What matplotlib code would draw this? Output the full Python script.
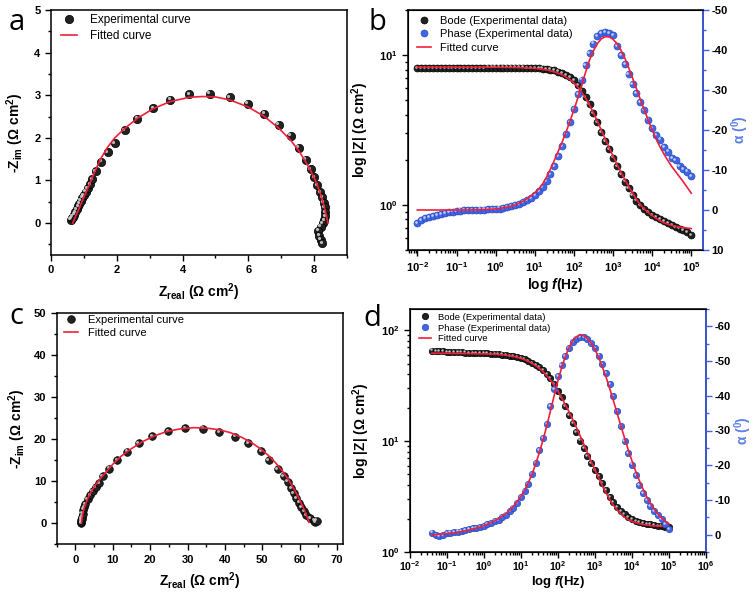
import matplotlib
matplotlib.use('Agg')
import matplotlib.pyplot as plt
import matplotlib.transforms as mtransforms
from matplotlib.ticker import MultipleLocator, LogLocator, NullFormatter

plt.rcParams['font.family'] = ['Liberation Sans', 'DejaVu Sans']
plt.rcParams['font.weight'] = 'bold'
plt.rcParams['axes.labelweight'] = 'bold'
plt.rcParams['axes.unicode_minus'] = False
plt.rcParams['mathtext.fontset'] = 'custom'
plt.rcParams['mathtext.rm'] = 'Liberation Sans:bold'
plt.rcParams['mathtext.bf'] = 'Liberation Sans:bold'
plt.rcParams['mathtext.it'] = 'Liberation Sans:italic:bold'

# ---------------- data ----------------
# panel a: Nyquist
za_re = [0.60, 0.63, 0.66, 0.70, 0.74, 0.78, 0.82, 0.86, 0.90, 0.95,
         1.00, 1.06, 1.12, 1.19, 1.26, 1.36, 1.52, 1.72, 1.94, 2.24,
         2.63, 3.10, 3.62, 4.20, 4.82, 5.43, 5.98, 6.49, 6.92, 7.29,
         7.53, 7.75, 7.90, 8.01, 8.10, 8.18, 8.25, 8.29, 8.32, 8.33,
         8.33, 8.31, 8.26, 8.20, 8.13, 8.16, 8.20, 8.25]
za_im = [0.08, 0.11, 0.15, 0.20, 0.26, 0.32, 0.39, 0.45, 0.52, 0.59,
         0.66, 0.74, 0.82, 0.91, 1.03, 1.21, 1.44, 1.66, 1.88, 2.18,
         2.45, 2.70, 2.89, 3.02, 3.04, 2.96, 2.80, 2.57, 2.31, 2.05,
         1.77, 1.49, 1.27, 1.07, 0.89, 0.73, 0.60, 0.48, 0.37, 0.25,
         0.16, 0.07, 0.0, -0.09, -0.18, -0.30, -0.39, -0.47]
fa_re = [0.66, 0.75, 0.85, 0.95, 1.05, 1.15, 1.36, 1.52, 1.72, 1.94,
         2.24, 2.63, 3.10, 3.62, 4.20, 4.60, 5.00, 5.43, 5.98, 6.49,
         6.92, 7.29, 7.53, 7.75, 7.90, 8.05, 8.18, 8.28, 8.36, 8.42]
fa_im = [0.0, 0.16, 0.34, 0.52, 0.70, 0.87, 1.26, 1.52, 1.78, 2.00,
         2.22, 2.46, 2.68, 2.85, 2.95, 2.97, 2.96, 2.89, 2.73, 2.50,
         2.23, 1.94, 1.70, 1.43, 1.22, 0.98, 0.72, 0.46, 0.22, 0.0]

# panel c: Nyquist
zc_re = [1.5, 1.55, 1.6, 1.7, 1.8, 1.95, 2.15, 2.4, 2.7, 3.3,
         3.95, 4.65, 5.4, 6.3, 7.3, 9.0, 11.1, 13.8, 16.9, 20.5,
         24.8, 29.3, 34.1, 38.5, 42.7, 46.3, 49.6, 51.7, 54.1, 55.7,
         56.8, 57.7, 58.4, 59.1, 59.8, 60.4, 61.1, 61.8, 62.7, 63.8,
         64.2, 64.5]
zc_im = [0.0, 0.3, 0.7, 1.1, 1.6, 2.3, 3.2, 3.9, 4.6, 5.7,
         6.7, 7.7, 8.5, 9.6, 11.2, 13.0, 15.0, 17.0, 19.0, 20.7,
         21.9, 22.6, 22.5, 21.7, 20.6, 19.0, 17.2, 15.0, 12.9, 11.2,
         9.9, 8.3, 7.1, 5.9, 4.9, 3.8, 2.8, 2.0, 1.2, 0.6,
         0.3, 0.6]
fc_re = [1.6, 1.8, 2.1, 2.6, 3.3, 4.2, 5.3, 6.6, 8.2, 10.0, 12.2, 14.8,
         17.8, 21.0, 24.5, 28.0, 31.5, 35.0, 38.5, 41.5, 44.5, 47.0, 49.5,
         51.5, 53.5, 55.3, 56.9, 58.3, 59.5, 60.5, 61.3, 62.0, 62.5]
fc_im = [0.0, 1.4, 2.8, 4.3, 5.9, 7.5, 9.0, 10.5, 12.2, 14.0, 15.9, 17.6,
         19.3, 20.7, 21.8, 22.4, 22.7, 22.6, 22.2, 21.5, 20.4, 19.2, 17.7,
         16.2, 14.4, 12.5, 10.5, 8.4, 6.4, 4.6, 3.0, 1.4, 0.2]

# frequency list (10 points per decade)
decade_mant = [1.0, 1.26, 1.58, 2.0, 2.51, 3.16, 3.98, 5.01, 6.31, 7.94]
freq_b = [m * 10.0 ** e for e in range(-2, 5) for m in decade_mant] + [1e5]
freq_d = freq_b[6:]

# panel b: Bode
zmod_b = [8.15, 8.18, 8.20, 8.20, 8.19, 8.20, 8.21, 8.20, 8.21, 8.22,
          8.22, 8.22, 8.23, 8.23, 8.23, 8.24, 8.24, 8.24, 8.25, 8.25,
          8.25, 8.25, 8.26, 8.26, 8.26, 8.26, 8.25, 8.25, 8.24, 8.22,
          8.20, 8.17, 8.12, 8.06, 8.00, 7.90, 7.75, 7.58, 7.38, 7.12,
          6.78, 6.30, 5.80, 5.25, 4.70, 4.10, 3.55, 3.08, 2.68, 2.35,
          2.07, 1.82, 1.61, 1.43, 1.29, 1.17, 1.07, 1.00, 0.935, 0.89,
          0.86, 0.83, 0.80, 0.775, 0.755, 0.735, 0.715, 0.695, 0.675, 0.655,
          0.63]
phase_b = [3.2, 2.6, 2.1, 1.8, 1.5, 1.2, 1.0, 0.8, 0.6, 0.4,
           0.25, 0.15, 0.05, 0.0, -0.05, -0.05, -0.1, -0.1, -0.15, -0.2,
           -0.25, -0.35, -0.5, -0.7, -0.9, -1.2, -1.5, -1.9, -2.4, -3.0,
           -3.8, -4.7, -5.8, -7.2, -9.0, -11.0, -13.4, -16.0, -18.9, -22.0,
           -25.3, -29.0, -32.6, -36.2, -39.3, -41.6, -43.4, -44.3, -44.4, -44.2,
           -43.8, -41.0, -38.8, -36.4, -34.0, -31.5, -29.3, -27.0, -25.0, -22.6,
           -20.5, -18.7, -17.6, -15.8, -14.6, -13.0, -12.4, -11.0, -10.3, -9.6,
           -8.4]
fit_zmod_b = [8.30] * 20 + [
    8.30, 8.30, 8.29, 8.29, 8.28, 8.27, 8.25, 8.23, 8.20, 8.18,
    8.15, 8.10, 8.04, 7.96, 7.86, 7.73, 7.57, 7.38, 7.14, 6.86,
    6.52, 6.12, 5.66, 5.16, 4.64, 4.12, 3.62, 3.16, 2.76, 2.42,
    2.12, 1.87, 1.66, 1.48, 1.33, 1.20, 1.09, 1.00, 0.94, 0.89,
    0.85, 0.815, 0.785, 0.76, 0.745, 0.73, 0.72, 0.71, 0.705, 0.70,
    0.695]
fit_phase_b = [0.0] * 10 + [
    0.0, 0.0, 0.0, 0.0, -0.05, -0.05, -0.1, -0.1, -0.15, -0.2,
    -0.3, -0.4, -0.55, -0.75, -1.0, -1.3, -1.7, -2.2, -2.8, -3.5,
    -4.3, -5.2, -6.5, -8.2, -10.2, -12.4, -14.7, -17.0, -19.5, -22.2,
    -25.0, -28.0, -31.2, -34.5, -37.5, -39.8, -41.6, -42.8, -43.3, -43.3,
    -42.7, -41.6, -40.0, -38.0, -35.6, -33.0, -30.3, -27.6, -25.0, -22.5,
    -20.0, -17.8, -15.8, -14.0, -12.4, -10.9, -9.6, -8.3, -7.0, -5.6,
    -4.2]

# panel d: Bode
zmod_d = [65.5, 65.0, 64.5, 64.2, 63.9, 63.6, 63.4, 63.2, 63.0, 62.8,
          62.6, 62.4, 62.2, 62.0, 61.8, 61.6, 61.4, 61.1, 60.7, 60.2,
          59.6, 58.9, 58.0, 57.0, 55.8, 54.4, 52.7, 50.8, 48.6, 46.1,
          43.3, 40.3, 36.8, 32.9, 28.5, 24.7, 20.8, 17.2, 14.4, 12.0,
          10.1, 8.6, 7.3, 6.3, 5.5, 4.8, 4.15, 3.6, 3.15, 2.8,
          2.55, 2.35, 2.18, 2.05, 1.97, 1.91, 1.86, 1.82, 1.79, 1.77,
          1.75, 1.73, 1.71, 1.69, 1.67]
phase_d = [-0.6, 0.2, 0.4, 0.1, -0.4, -0.6, -0.8, -0.9, -1.1, -1.4,
           -1.6, -1.8, -2.0, -2.3, -2.6, -3.0, -3.4, -3.8, -4.3, -5.0,
           -5.8, -6.7, -7.8, -9.2, -10.7, -12.5, -14.7, -17.4, -20.6, -24.3,
           -27.9, -31.8, -37.0, -42.0, -45.8, -48.8, -51.4, -53.7, -55.4, -56.5,
           -57.0, -57.0, -56.4, -55.3, -53.7, -51.6, -49.2, -46.6, -43.4, -39.8,
           -35.5, -31.2, -27.0, -23.6, -20.2, -17.3, -14.4, -12.0, -10.0, -8.3,
           -6.8, -5.6, -4.5, -3.1, -1.7]
fit_zmod_d = [62.0, 61.95, 61.9, 61.85, 61.8, 61.75, 61.7, 61.65, 61.6, 61.55,
              61.5, 61.4, 61.3, 61.2, 61.1, 60.95, 60.8, 60.55, 60.25, 59.85,
              59.35, 58.7, 57.9, 56.9, 55.7, 54.2, 52.4, 50.3, 47.9, 45.2,
              42.2, 38.9, 35.4, 31.8, 28.2, 24.7, 21.4, 18.4, 15.7, 13.3,
              11.2, 9.4, 7.85, 6.55, 5.5, 4.65, 3.95, 3.4, 2.97, 2.64,
              2.39, 2.2, 2.06, 1.96, 1.89, 1.84, 1.8, 1.77, 1.75, 1.73,
              1.72, 1.71, 1.705, 1.70, 1.70]
fit_phase_d = [0.1, 0.0, -0.1, -0.2, -0.3, -0.4, -0.5, -0.7, -0.9, -1.1,
               -1.3, -1.6, -1.9, -2.2, -2.6, -3.0, -3.5, -4.0, -4.6, -5.3,
               -6.1, -7.1, -8.2, -9.5, -11.0, -12.8, -14.9, -17.4, -20.3, -23.6,
               -27.3, -31.3, -35.6, -40.0, -44.2, -48.0, -51.2, -53.9, -55.8, -57.0,
               -57.5, -57.3, -56.5, -55.2, -53.4, -51.1, -48.4, -45.4, -42.1, -38.6,
               -35.0, -31.4, -27.9, -24.5, -21.3, -18.3, -15.6, -13.1, -10.9, -9.0,
               -7.4, -6.0, -4.8, -3.9, -3.1]

RED = '#f0203a'
BLUE = '#3f66e8'
SPINE_BLUE = '#3f5ff5'

fig = plt.figure(figsize=(7.56, 5.93), dpi=100)
W, H = 756.0, 593.0


def px_axes(l, t, r, b):
    return fig.add_axes([l / W, 1 - b / H, (r - l) / W, (b - t) / H])


def balls(ax, x, y, base, edge, shine, ms, label=None):
    ax.plot(x, y, 'o', ls='none', ms=ms, mfc=base, mec=edge, mew=0.5,
            label=label)
    tr = mtransforms.offset_copy(ax.transData, fig=fig, x=-ms * 0.17,
                                 y=ms * 0.17, units='points')
    ax.plot(x, y, 'o', ls='none', ms=ms * 0.38, mfc=shine, mec='none',
            transform=tr, alpha=0.85)


def style(ax):
    ax.tick_params(which='both', direction='out', top=False, right=False,
                   labelsize=8, width=1)
    ax.tick_params(which='major', length=4)
    ax.tick_params(which='minor', length=2)
    for s in ax.spines.values():
        s.set_linewidth(1.1)


def bode_style(ax, ax2, xlo, xhi, xpad=3.5, lpad=1, xsize=8, lsize=10):
    ax.set_xscale('log')
    ax.set_yscale('log')
    ax.set_xlim(xlo, xhi)
    ax.xaxis.set_major_locator(LogLocator(base=10, numticks=12))
    ax.xaxis.set_minor_locator(LogLocator(base=10, subs=range(2, 10), numticks=12))
    ax.xaxis.set_minor_formatter(NullFormatter())
    ax.yaxis.set_minor_formatter(NullFormatter())
    style(ax)
    ax.tick_params(axis='x', which='major', pad=xpad, labelsize=xsize)
    ax2.tick_params(which='both', direction='out', labelsize=8, width=1,
                    color=SPINE_BLUE, labelcolor='black', pad=2)
    ax2.tick_params(which='major', length=4)
    ax2.tick_params(which='minor', length=2)
    ax2.spines['right'].set_color(SPINE_BLUE)
    ax2.spines['right'].set_linewidth(1.1)
    ax2.yaxis.set_major_locator(MultipleLocator(10))
    ax2.yaxis.set_minor_locator(MultipleLocator(5))
    ax.set_xlabel(r'log $\mathit{f}$(Hz)', fontsize=lsize, labelpad=lpad)
    ax.set_ylabel(r'log |Z| ($\Omega$ cm$^{\mathdefault{2}}$)', fontsize=10, labelpad=6)
    ax2.set_ylabel(r'α ($^{\mathdefault{0}}$)', fontsize=10, color='#5b7fe8',
                   rotation=90, labelpad=1)


# ---- panel a ----
axa = px_axes(51, 10, 347, 255)
balls(axa, za_re, za_im, '#222222', '#000000', '#d8d8d8', 6,
      label='Experimental curve')
axa.plot(fa_re, fa_im, color=RED, lw=1.2, label='Fitted curve')
axa.set_xlim(0, 9)
axa.set_ylim(-0.75, 5)
axa.xaxis.set_major_locator(MultipleLocator(2))
axa.xaxis.set_minor_locator(MultipleLocator(1))
axa.yaxis.set_major_locator(MultipleLocator(1))
axa.yaxis.set_minor_locator(MultipleLocator(0.5))
style(axa)
axa.set_xlabel(r'Z$_{\mathdefault{real}}$ ($\Omega$ cm$^{\mathdefault{2}}$)', fontsize=10, labelpad=4)
axa.set_ylabel(r'-Z$_{\mathdefault{im}}$ ($\Omega$ cm$^{\mathdefault{2}}$)', fontsize=10, labelpad=6)
axa.legend(loc='upper left', bbox_to_anchor=(0.035, 0.985), frameon=False,
           borderpad=0, borderaxespad=0, handlelength=1.3, handletextpad=1.1,
           labelspacing=0.35, prop={'weight': 'normal', 'size': 8.5})

# ---- panel b ----
axb = px_axes(408, 10, 703, 250)
axb2 = axb.twinx()
balls(axb, freq_b, zmod_b, '#222222', '#000000', '#d8d8d8', 5,
      label='Bode (Experimental data)')
axb.plot(freq_b, fit_zmod_b, color=RED, lw=1.2)
balls(axb2, freq_b, phase_b, BLUE, '#2a48b8', '#d6e2ff', 5,
      label='Phase (Experimental data)')
axb2.plot(freq_b, fit_phase_b, color=RED, lw=1.2, label='Fitted curve')
bode_style(axb, axb2, 10 ** -2.24, 10 ** 5.3)
axb.set_ylim(0.5, 20)
axb2.set_ylim(10, -50)
hb1, lb1 = axb.get_legend_handles_labels()
hb2, lb2 = axb2.get_legend_handles_labels()
axb2.legend(hb1 + hb2, lb1 + lb2, loc='upper left', bbox_to_anchor=(0.03, 0.975),
            frameon=False, borderpad=0, borderaxespad=0, handlelength=1.3,
            handletextpad=0.8, labelspacing=0.3, prop={'weight': 'normal', 'size': 8})

# ---- panel c ----
axc = px_axes(56.7, 312.7, 342.7, 544.3)
balls(axc, zc_re, zc_im, '#222222', '#000000', '#d8d8d8', 5.5,
      label='Experimental curve')
axc.plot(fc_re, fc_im, color=RED, lw=1.2, label='Fitted curve')
axc.set_xlim(-5, 71.5)
axc.set_ylim(-5, 50)
axc.xaxis.set_major_locator(MultipleLocator(10))
axc.xaxis.set_minor_locator(MultipleLocator(5))
axc.yaxis.set_major_locator(MultipleLocator(10))
axc.yaxis.set_minor_locator(MultipleLocator(5))
style(axc)
axc.set_xlabel(r'Z$_{\mathdefault{real}}$ ($\Omega$ cm$^{\mathdefault{2}}$)', fontsize=10, labelpad=4)
axc.set_ylabel(r'-Z$_{\mathdefault{im}}$ ($\Omega$ cm$^{\mathdefault{2}}$)', fontsize=10, labelpad=4)
axc.legend(loc='upper left', bbox_to_anchor=(0.025, 0.99), frameon=False,
           borderpad=0, borderaxespad=0, handlelength=1.3, handletextpad=0.9,
           labelspacing=0.3, prop={'weight': 'normal', 'size': 8})

# ---- panel d ----
axd = px_axes(409.7, 309, 706, 552)
axd2 = axd.twinx()
balls(axd, freq_d, zmod_d, '#222222', '#000000', '#d8d8d8', 4.6,
      label='Bode (Experimental data)')
axd.plot(freq_d, fit_zmod_d, color=RED, lw=1.2)
balls(axd2, freq_d, phase_d, BLUE, '#2a48b8', '#d6e2ff', 4.6,
      label='Phase (Experimental data)')
axd2.plot(freq_d, fit_phase_d, color=RED, lw=1.2, label='Fitted curve')
bode_style(axd, axd2, 1e-2, 1e6, xpad=1.5, lpad=0.5, xsize=7.5, lsize=9.5)
axd.set_ylim(1, 155)
axd2.set_ylim(5, -65)
hd1, ld1 = axd.get_legend_handles_labels()
hd2, ld2 = axd2.get_legend_handles_labels()
axd2.legend(hd1 + hd2, ld1 + ld2, loc='upper left', bbox_to_anchor=(0.03, 0.985),
            frameon=False, borderpad=0, borderaxespad=0, handlelength=1.3,
            handletextpad=0.8, labelspacing=0.2, prop={'weight': 'normal', 'size': 6.8})

# panel letters
for letter, (x, y) in zip('abcd', [(17, 22), (377, 22), (16, 317), (372, 318)]):
    fig.text(x / W, 1 - y / H, letter, fontsize=21, fontweight='normal',
             family=['Open Sans', 'DejaVu Sans'], ha='center', va='center')

fig.savefig('out.png', dpi=100)
